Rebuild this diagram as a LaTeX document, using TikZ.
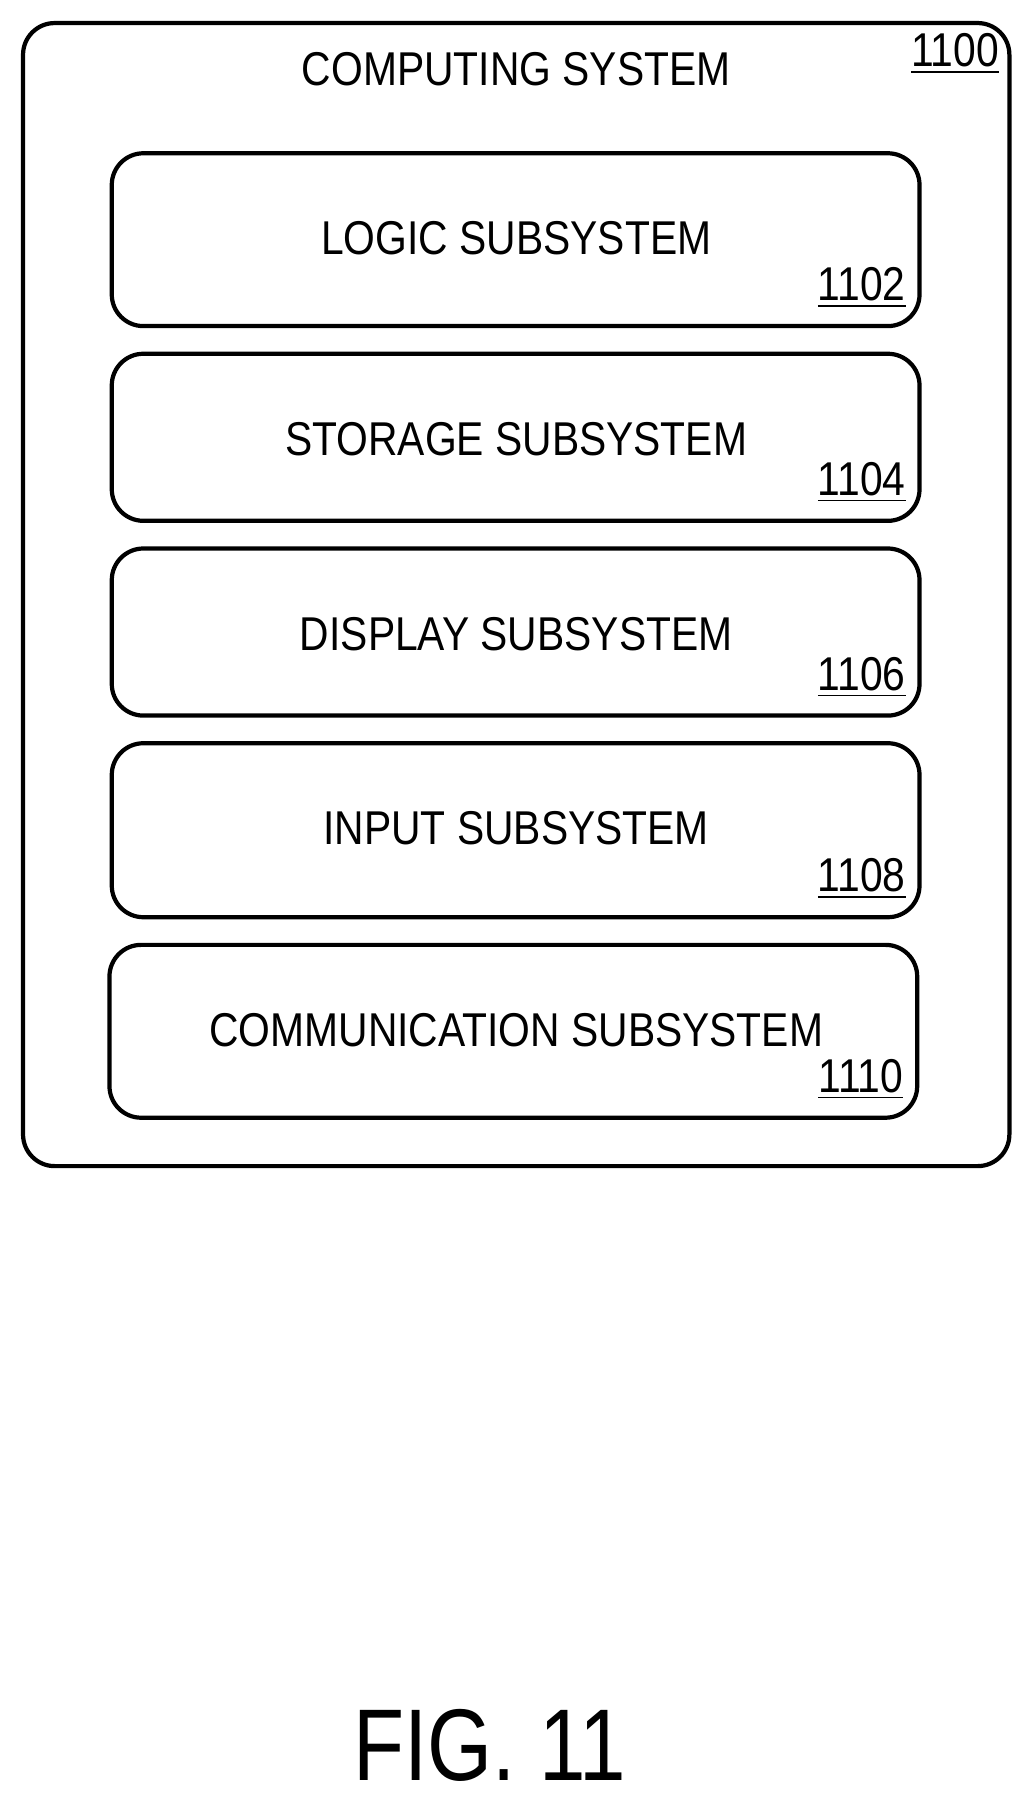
\documentclass[tikz,border=0pt]{standalone}
\usepackage{fontspec}
\setmainfont{Liberation Sans}
\usetikzlibrary{positioning}
\tikzset{
  subbox/.style={draw, line width=1.2pt, rounded corners=9pt},
  lbl/.style={font=\fontsize{13.5}{15}\selectfont, xscale=0.86},
  refnum/.style={font=\fontsize{13.5}{15}\selectfont, xscale=0.86, anchor=south east, inner sep=1pt}
}
\begin{document}
\begin{tikzpicture}[x=0.011523cm, y=-0.011523cm]
  \useasboundingbox (0,0) rectangle (893,1563);
  \draw[subbox] (20,20) rectangle (876,1012);
  \node[lbl] (title) at (448,60) {COMPUTING SYSTEM};
  \node[refnum] (n1100) at (870,68) {\underline{1100}};
  \foreach \y/\h/\x/\txt/\num in {
      133/283/97/LOGIC SUBSYSTEM/1102,
      307/452/97/STORAGE SUBSYSTEM/1104,
      476/621/97/DISPLAY SUBSYSTEM/1106,
      645/796/97/INPUT SUBSYSTEM/1108,
      820/970/95/COMMUNICATION SUBSYSTEM/1110} {
    \draw[subbox] (\x,\y) rectangle (\x+701,\h);
    \node[lbl] (s\num) at (448,\y+74) {\txt};
    \node[refnum] (n\num) at (\x+692,\h-12) {\underline{\num}};
  }
  \node[font=\fontsize{29}{32}\selectfont, xscale=0.82] (fig) at (425,1515) {FIG. 11};
\end{tikzpicture}
\end{document}
